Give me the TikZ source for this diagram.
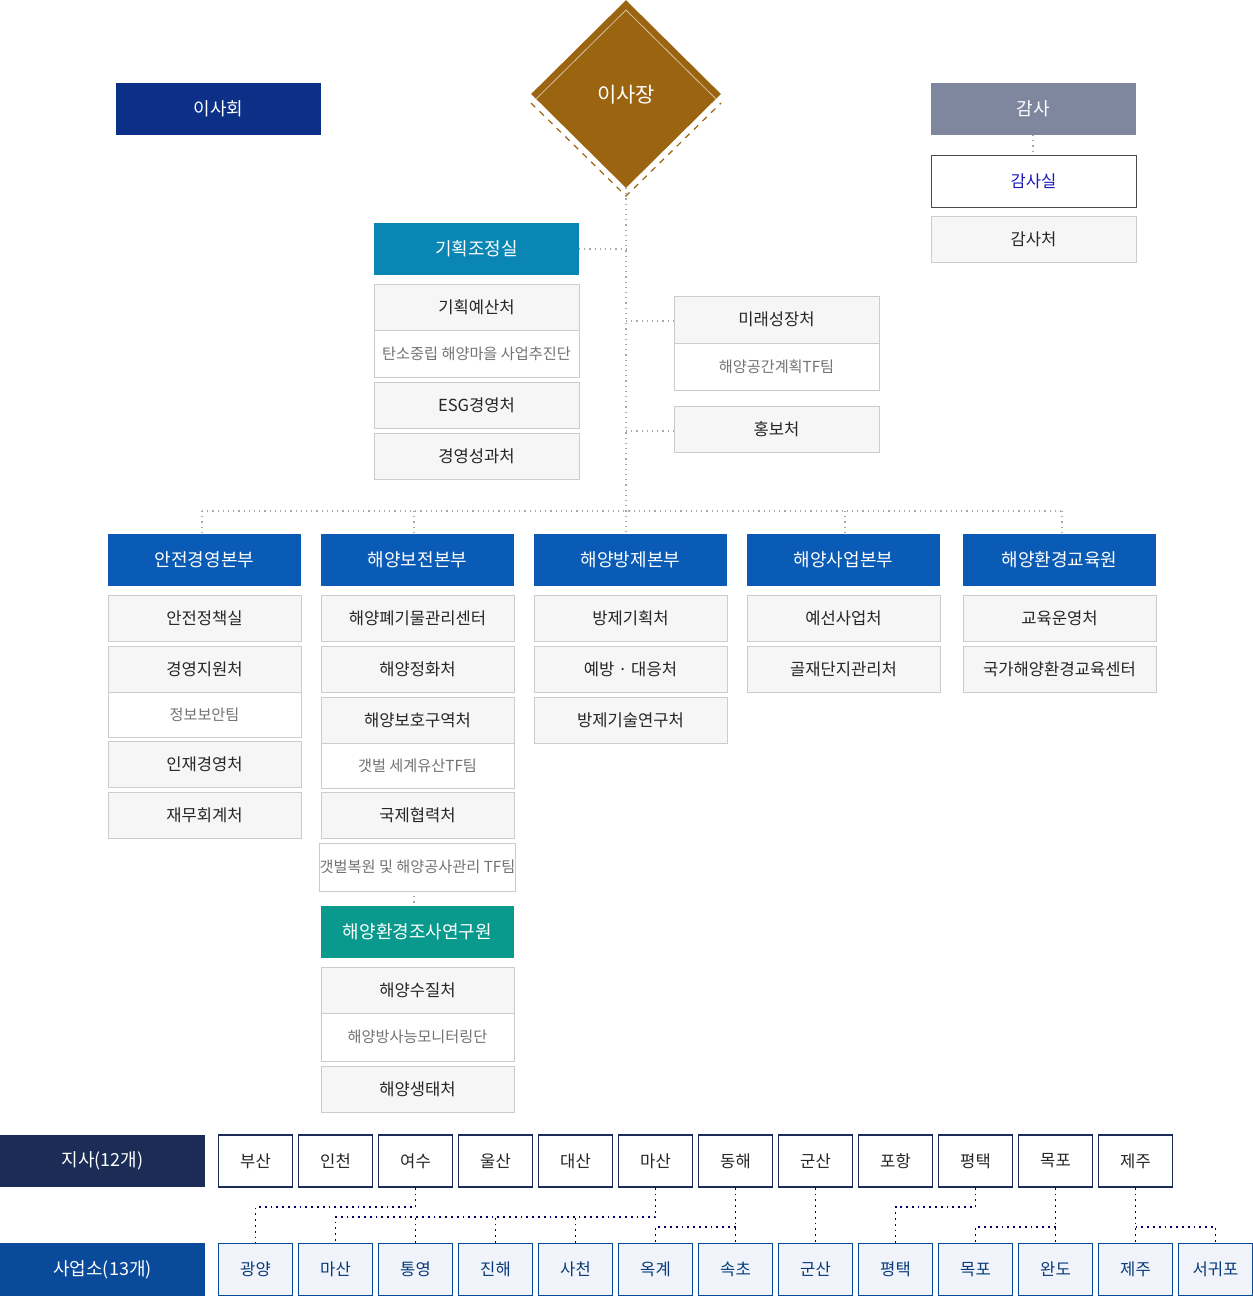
\documentclass[tikz,border=0pt]{standalone}
\usepackage{fontspec}
\setmainfont{Noto Sans CJK KR}
\usetikzlibrary{shapes.geometric}
\begin{document}
\begin{tikzpicture}[x=0.5pt,y=-0.5pt,
  base/.style={rectangle,inner sep=0pt,line width=0.5pt,font=\fontsize{8.3}{10}\selectfont},
  hdr/.style={base,fill=#1,text=white,font=\fontsize{9}{11}\selectfont},
  gbox/.style={base,fill=gray!7,draw=gray!40,text=black!85},
  wbox/.style={base,fill=white,draw=gray!40,text=black!55,font=\fontsize{7.6}{9}\selectfont},
  ln/.style={draw=gray!70,dotted,line width=0.6pt},
  bl/.style={draw=blue!40!black,dotted,line width=0.9pt},
  tbox/.style={base,fill=white,draw=tnavy,line width=0.8pt,text=black!85},
  sbox/.style={base,fill=sfill,draw=sblue,line width=0.8pt,text=sblue!80!black}]
\definecolor{navy}{HTML}{0C2F87}\definecolor{dbrown}{HTML}{9A6411}
\definecolor{gamsa}{HTML}{7F879E}\definecolor{kc}{HTML}{0A86B4}
\definecolor{hb}{HTML}{0A5BB5}\definecolor{teal}{HTML}{0A9A8D}
\definecolor{tnavy}{HTML}{1B2D57}\definecolor{sblue}{HTML}{0A4A9A}
\definecolor{sfill}{HTML}{F0F4FA}
\newcommand\B[7]{\node[#6,minimum width=#4*0.5pt,minimum height=#5*0.5pt] (#1) at (#2,#3) {#7};}
\useasboundingbox (0,0) rectangle (1253,1296);
% connectors (behind)
\draw[ln] (626,188) -- (626,534);
\draw[ln] (202,511) -- (1062,511);
\foreach \x in {202,414,845,1062} \draw[ln] (\x,511) -- (\x,534);
\draw[ln] (579,249) -- (626,249);
\draw[ln] (626,321) -- (674,321);
\draw[ln] (626,431) -- (674,431);
\draw[ln] (1033,135) -- (1033,155);
\draw[ln] (414,891) -- (414,906);
% top
\B{ish}{218.5}{109}{205}{52}{hdr=navy}{이사회}
\draw[dbrown,dashed,line width=0.6pt] (531,103) -- (626,196) -- (721,103);
\node[diamond,fill=dbrown,minimum width=190*0.5pt,minimum height=188*0.5pt,inner sep=0pt] (ceo) at (626,94) {};
\draw[white!60!dbrown,line width=0.4pt] (536,99) -- (626,10) -- (716,99);
\node[text=white,font=\fontsize{10.5}{12}\selectfont] at (626,95) {이사장};
\B{gs}{1033.5}{109}{205}{52}{hdr=gamsa}{감사}
\B{gss}{1033.5}{181}{205}{52}{base,fill=white,draw=black!70,text=blue!70!black!90}{감사실}
\B{gsc}{1033.5}{239}{205}{46}{gbox}{감사처}
\B{kj}{476.5}{249}{205}{52}{hdr=kc}{기획조정실}
\B{k1}{476.5}{307}{205}{46}{gbox}{기획예산처}
\B{k2}{476.5}{353.5}{205}{47}{wbox}{탄소중립 해양마을 사업추진단}
\B{k3}{476.5}{405}{205}{46}{gbox}{ESG경영처}
\B{k4}{476.5}{456}{205}{46}{gbox}{경영성과처}
\B{m1}{776.5}{319.5}{205}{47}{gbox}{미래성장처}
\B{m2}{776.5}{366.5}{205}{47}{wbox}{해양공간계획TF팀}
\B{m3}{776.5}{429}{205}{46}{gbox}{홍보처}
% headers
\B{h1}{204.5}{560}{193}{52}{hdr=hb}{안전경영본부}
\B{h2}{417.5}{560}{193}{52}{hdr=hb}{해양보전본부}
\B{h3}{630.5}{560}{193}{52}{hdr=hb}{해양방제본부}
\B{h4}{843.5}{560}{193}{52}{hdr=hb}{해양사업본부}
\B{h5}{1059.5}{560}{193}{52}{hdr=hb}{해양환경교육원}
% col1
\B{a1}{204.5}{618}{193}{46}{gbox}{안전정책실}
\B{a2}{204.5}{669}{193}{46}{gbox}{경영지원처}
\B{a3}{204.5}{714.5}{193}{45}{wbox}{정보보안팀}
\B{a4}{204.5}{764}{193}{46}{gbox}{인재경영처}
\B{a5}{204.5}{815}{193}{46}{gbox}{재무회계처}
% col2
\B{b1}{417.5}{618}{193}{46}{gbox}{해양폐기물관리센터}
\B{b2}{417.5}{669}{193}{46}{gbox}{해양정화처}
\B{b3}{417.5}{720}{193}{46}{gbox}{해양보호구역처}
\B{b4}{417.5}{765.5}{193}{45}{wbox}{갯벌 세계유산TF팀}
\B{b5}{417.5}{815}{193}{46}{gbox}{국제협력처}
\B{b6}{417.5}{867}{193}{48}{wbox}{갯벌복원 및 해양공사관리 TF팀}
\B{b7}{417.5}{932}{193}{52}{hdr=teal}{해양환경조사연구원}
\B{b8}{417.5}{990}{193}{46}{gbox}{해양수질처}
\B{b9}{417.5}{1037}{193}{48}{wbox}{해양방사능모니터링단}
\B{b10}{417.5}{1089}{193}{46}{gbox}{해양생태처}
% col3-5
\B{c1}{630.5}{618}{193}{46}{gbox}{방제기획처}
\B{c2}{630.5}{669}{193}{46}{gbox}{예방 · 대응처}
\B{c3}{630.5}{720}{193}{46}{gbox}{방제기술연구처}
\B{d1}{843.5}{618}{193}{46}{gbox}{예선사업처}
\B{d2}{843.5}{669}{193}{46}{gbox}{골재단지관리처}
\B{e1}{1059.5}{618}{193}{46}{gbox}{교육운영처}
\B{e2}{1059.5}{669}{193}{46}{gbox}{국가해양환경교육센터}
% bottom
\B{jisa}{102.5}{1161}{205}{52}{hdr=tnavy}{지사(12개)}
\B{sub}{102.5}{1269.5}{205}{53}{hdr=sblue}{사업소(13개)}
\foreach \t [count=\i from 0] in {부산,인천,여수,울산,대산,마산,동해,군산,포항,평택,목포,제주}
  {\pgfmathsetmacro\cx{255.5+80*\i}\B{t\i}{\cx}{1161}{74}{52}{tbox}{\t}}
\foreach \t [count=\i from 0] in {광양,마산,통영,진해,사천,옥계,속초,군산,평택,목포,완도,제주,서귀포}
  {\pgfmathsetmacro\cx{255.5+80*\i}\B{s\i}{\cx}{1269.5}{74}{52}{sbox}{\t}}
\draw[bl] (t2.south) |- (255.5,1207) -- (s0.north);
\draw[bl] (t5.south) |- (335.5,1217) -- (s1.north);
\foreach \i in {2,3,4} \draw[bl] (s\i.north) -- ++(0,-26);
\draw[bl] (t6.south) -- (s6.north);
\draw[bl] (735.5,1227) -| (s5.north);
\draw[bl] (t7.south) -- (s7.north);
\draw[bl] (t9.south) |- (895.5,1207) -- (s8.north);
\draw[bl] (t10.south) -- (s10.north);
\draw[bl] (1055.5,1227) -| (s9.north);
\draw[bl] (t11.south) -- (s11.north);
\draw[bl] (1135.5,1227) -| (s12.north);
\end{tikzpicture}
\end{document}
